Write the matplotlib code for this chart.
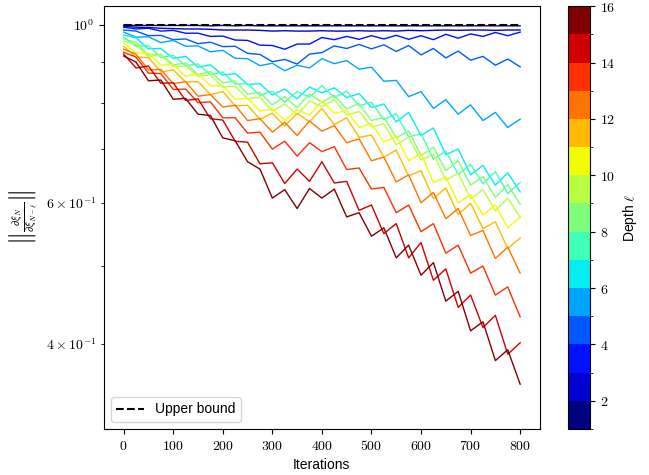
import numpy as np
import matplotlib
matplotlib.use('Agg')
import matplotlib.pyplot as plt
from matplotlib.colors import ListedColormap, BoundaryNorm
from matplotlib.cm import ScalarMappable

plt.rcParams['font.family'] = ['Liberation Sans', 'DejaVu Sans']
plt.rcParams['mathtext.fontset'] = 'cm'

# iterations sampled every 25 steps
iters = np.arange(0, 801, 25)

# gradient norm for each depth l
depth_1 = [1.000, 0.999, 0.999, 0.999, 0.999, 0.999, 0.999, 0.998, 0.999, 0.998, 0.999, 0.998,
           0.998, 0.998, 0.998, 0.998, 0.998, 0.998, 0.998, 0.998, 0.998, 0.998, 0.998, 0.998,
           0.998, 0.998, 0.998, 0.998, 0.998, 0.998, 0.998, 0.998, 0.998]
depth_2 = [0.997, 0.994, 0.993, 0.991, 0.990, 0.989, 0.989, 0.988, 0.986, 0.986, 0.986, 0.985,
           0.983, 0.984, 0.983, 0.983, 0.984, 0.983, 0.983, 0.984, 0.983, 0.984, 0.983, 0.985,
           0.984, 0.985, 0.986, 0.985, 0.986, 0.986, 0.985, 0.986, 0.986]
depth_3 = [0.994, 0.989, 0.991, 0.983, 0.985, 0.977, 0.977, 0.968, 0.969, 0.958, 0.957, 0.944,
           0.943, 0.933, 0.947, 0.947, 0.965, 0.959, 0.968, 0.960, 0.970, 0.961, 0.971, 0.960,
           0.970, 0.959, 0.974, 0.963, 0.975, 0.968, 0.979, 0.970, 0.980]
depth_4 = [0.986, 0.983, 0.970, 0.971, 0.959, 0.961, 0.948, 0.952, 0.940, 0.941, 0.922, 0.919,
           0.900, 0.906, 0.894, 0.920, 0.924, 0.942, 0.935, 0.946, 0.934, 0.945, 0.927, 0.943,
           0.918, 0.935, 0.910, 0.928, 0.904, 0.914, 0.891, 0.907, 0.887]
depth_5 = [0.980, 0.966, 0.967, 0.951, 0.957, 0.941, 0.942, 0.926, 0.930, 0.909, 0.908, 0.890,
           0.896, 0.877, 0.891, 0.884, 0.908, 0.895, 0.903, 0.881, 0.886, 0.851, 0.853, 0.814,
           0.826, 0.787, 0.807, 0.774, 0.795, 0.760, 0.778, 0.745, 0.763]
depth_6 = [0.972, 0.964, 0.934, 0.935, 0.909, 0.914, 0.886, 0.892, 0.866, 0.870, 0.843, 0.845,
           0.818, 0.832, 0.809, 0.837, 0.823, 0.835, 0.812, 0.821, 0.789, 0.797, 0.757, 0.778,
           0.728, 0.744, 0.689, 0.700, 0.650, 0.668, 0.631, 0.654, 0.619]
depth_7 = [0.966, 0.940, 0.943, 0.911, 0.917, 0.890, 0.894, 0.867, 0.874, 0.844, 0.845, 0.817,
           0.827, 0.801, 0.826, 0.813, 0.840, 0.812, 0.827, 0.793, 0.801, 0.762, 0.775, 0.725,
           0.732, 0.680, 0.696, 0.651, 0.670, 0.634, 0.656, 0.616, 0.636]
depth_8 = [0.961, 0.952, 0.917, 0.920, 0.892, 0.897, 0.867, 0.875, 0.847, 0.852, 0.820, 0.824,
           0.795, 0.814, 0.789, 0.820, 0.801, 0.817, 0.786, 0.798, 0.760, 0.767, 0.723, 0.738,
           0.687, 0.704, 0.658, 0.677, 0.631, 0.647, 0.609, 0.632, 0.597]
depth_9 = [0.955, 0.945, 0.913, 0.918, 0.887, 0.890, 0.863, 0.867, 0.836, 0.839, 0.809, 0.813,
           0.781, 0.797, 0.773, 0.804, 0.791, 0.807, 0.772, 0.780, 0.746, 0.753, 0.709, 0.724,
           0.678, 0.690, 0.640, 0.653, 0.607, 0.623, 0.586, 0.608, 0.575]
depth_10 = [0.950, 0.923, 0.923, 0.891, 0.893, 0.863, 0.870, 0.840, 0.840, 0.808, 0.810, 0.781,
            0.786, 0.760, 0.784, 0.772, 0.804, 0.776, 0.782, 0.745, 0.753, 0.714, 0.726, 0.677,
            0.691, 0.636, 0.646, 0.600, 0.614, 0.579, 0.596, 0.558, 0.576]
depth_11 = [0.941, 0.912, 0.911, 0.874, 0.879, 0.849, 0.850, 0.819, 0.826, 0.793, 0.794, 0.763,
            0.776, 0.748, 0.776, 0.757, 0.787, 0.751, 0.766, 0.724, 0.729, 0.684, 0.698, 0.648,
            0.658, 0.607, 0.626, 0.580, 0.599, 0.557, 0.568, 0.526, 0.542]
depth_12 = [0.933, 0.920, 0.879, 0.880, 0.845, 0.850, 0.815, 0.819, 0.790, 0.794, 0.760, 0.764,
            0.735, 0.756, 0.728, 0.759, 0.737, 0.749, 0.713, 0.721, 0.677, 0.684, 0.637, 0.650,
            0.600, 0.618, 0.573, 0.590, 0.546, 0.554, 0.511, 0.528, 0.490]
depth_13 = [0.925, 0.912, 0.871, 0.870, 0.831, 0.832, 0.800, 0.802, 0.766, 0.766, 0.733, 0.735,
            0.700, 0.716, 0.686, 0.713, 0.695, 0.705, 0.660, 0.663, 0.624, 0.627, 0.583, 0.596,
            0.552, 0.565, 0.519, 0.531, 0.490, 0.500, 0.460, 0.471, 0.432]
depth_14 = [0.920, 0.884, 0.889, 0.846, 0.847, 0.805, 0.809, 0.764, 0.761, 0.716, 0.714, 0.671,
            0.673, 0.634, 0.661, 0.638, 0.675, 0.635, 0.638, 0.587, 0.596, 0.549, 0.565, 0.512,
            0.535, 0.480, 0.496, 0.444, 0.460, 0.419, 0.434, 0.388, 0.401]
depth_15 = [0.915, 0.899, 0.852, 0.854, 0.808, 0.810, 0.774, 0.771, 0.723, 0.717, 0.675, 0.661,
            0.608, 0.623, 0.590, 0.625, 0.608, 0.624, 0.576, 0.583, 0.545, 0.558, 0.512, 0.531,
            0.487, 0.505, 0.452, 0.465, 0.415, 0.426, 0.381, 0.393, 0.356]

curves = [depth_1, depth_2, depth_3, depth_4, depth_5, depth_6, depth_7, depth_8,
          depth_9, depth_10, depth_11, depth_12, depth_13, depth_14, depth_15]
depths = list(range(1, 16))
upper_bound = 1.0

# colormap: jet split in 15 bins, boundaries 1..16
cmap = ListedColormap(plt.cm.jet(np.linspace(0, 1, 15)))
norm = BoundaryNorm(np.arange(1, 17), cmap.N)

fig = plt.figure(figsize=(6.49, 4.75), dpi=100)
ax = fig.add_axes([0.160, 0.097, 0.672, 0.890])
cax = fig.add_axes([0.875, 0.097, 0.034, 0.890])

for d, vals in zip(depths, curves):
    ax.plot(iters, vals, color=cmap(norm(d)), lw=1.0)

ax.plot([iters[0], iters[-1]], [upper_bound, upper_bound], 'k--', lw=1.5, label='Upper bound')

ax.set_yscale('log')
ax.set_xlim(-40, 840)
ax.set_ylim(0.313, 1.056)

xt = [0, 100, 200, 300, 400, 500, 600, 700, 800]
ax.set_xticks(xt)
ax.set_xticklabels(['$%d$' % t for t in xt])
ax.set_yticks([1.0])
ax.set_yticklabels([r'$10^{0}$'])
ax.set_yticks([0.4, 0.5, 0.6, 0.7, 0.8, 0.9], minor=True)
ax.set_yticklabels([r'$4\times10^{-1}$', '', r'$6\times10^{-1}$', '', '', ''], minor=True)
ax.tick_params(labelsize=10)
ax.tick_params(which='minor', labelsize=10)

ax.set_xlabel('Iterations', fontsize=10)
ax.set_ylabel(r'$\left\|\frac{\partial \xi_N}{\partial \xi_{N-\ell}}\right\|$', fontsize=11)
ax.legend(loc='lower left', fontsize=10)

sm = ScalarMappable(norm=norm, cmap=cmap)
cb = fig.colorbar(sm, cax=cax, ticks=[2, 4, 6, 8, 10, 12, 14, 16])
cb.set_ticklabels(['$%d$' % t for t in [2, 4, 6, 8, 10, 12, 14, 16]])
cb.ax.tick_params(labelsize=10)
cb.set_label(r'Depth $\ell$', fontsize=10)

fig.savefig('out.png', dpi=100)
